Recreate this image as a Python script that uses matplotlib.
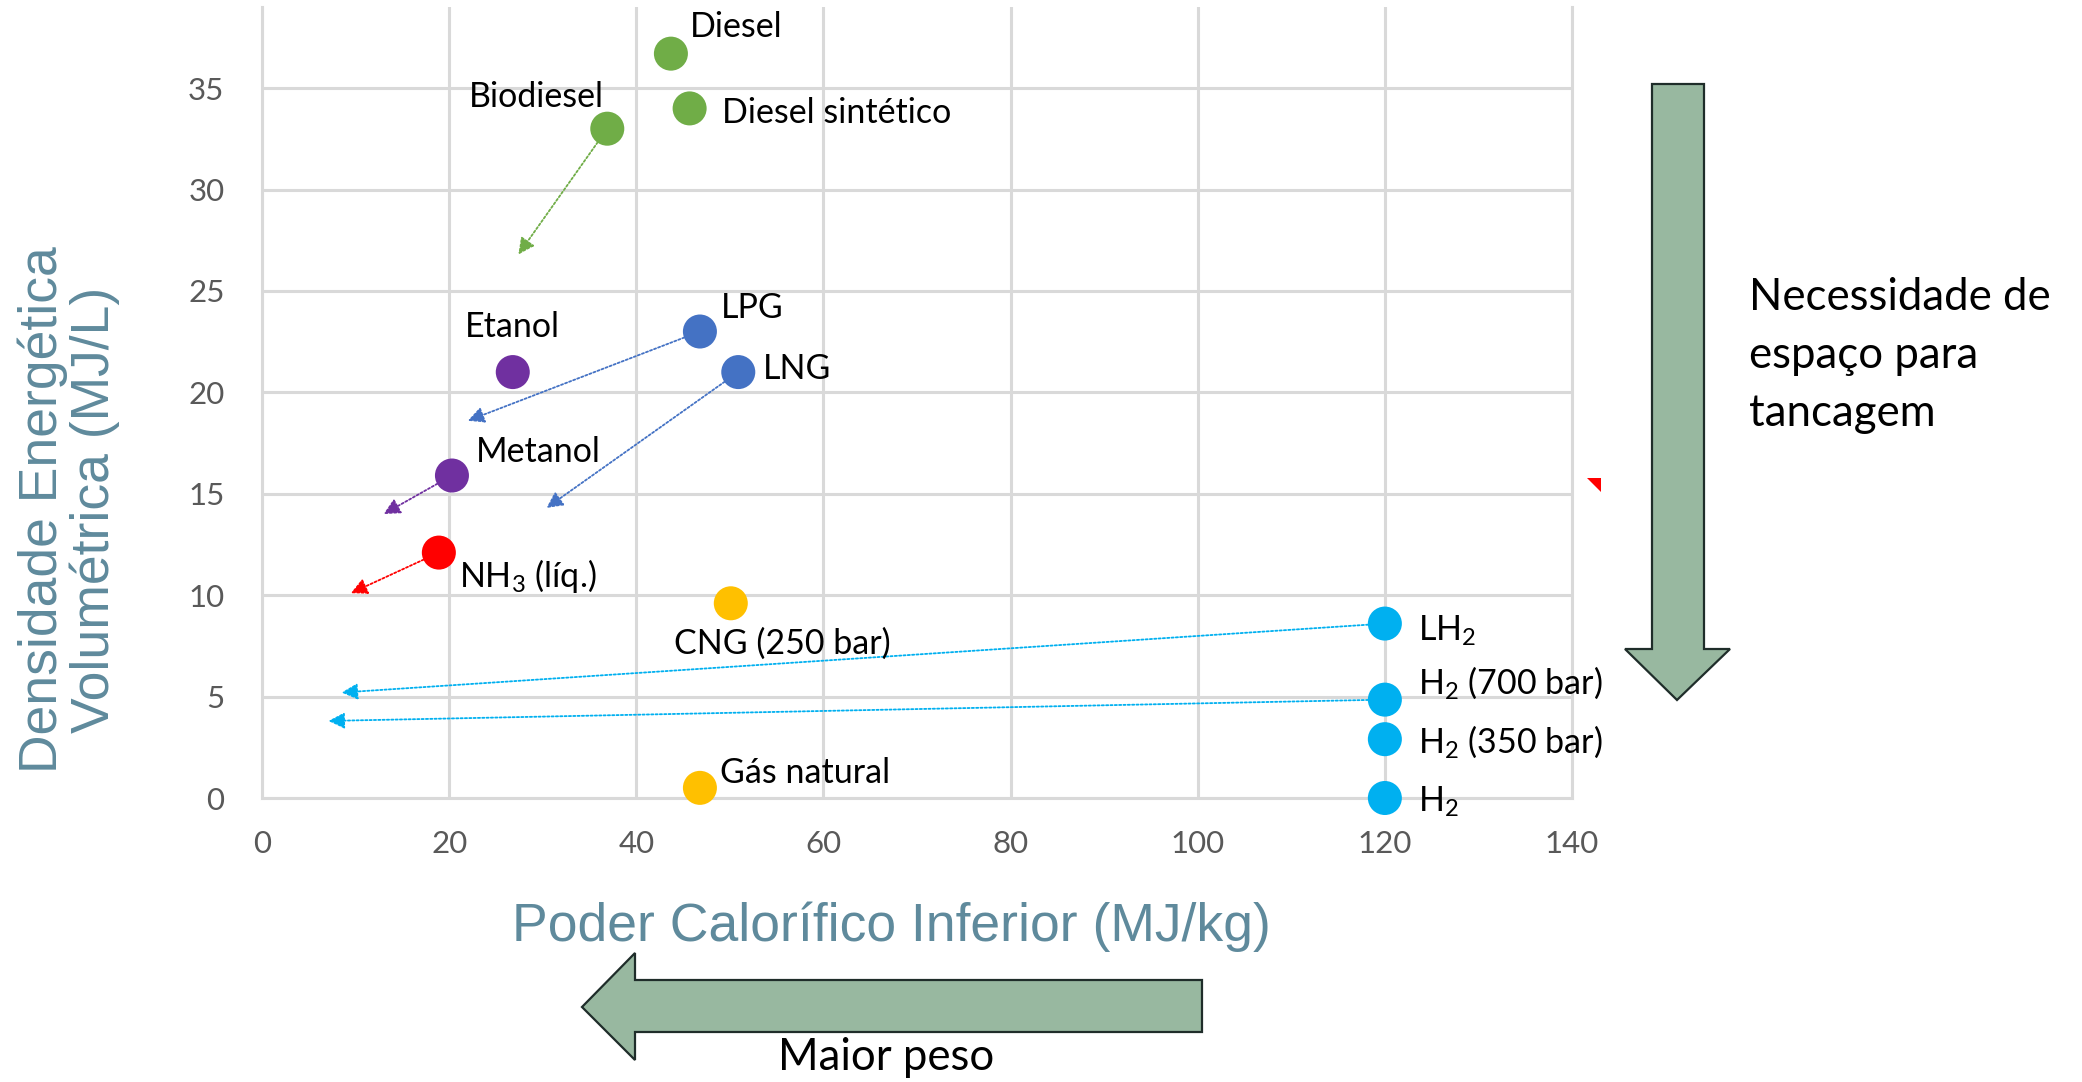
import matplotlib
matplotlib.use("Agg")
import matplotlib.pyplot as plt
from matplotlib.patches import Polygon

plt.rcParams['font.family'] = ['Lato', 'DejaVu Sans']
plt.rcParams['mathtext.fontset'] = 'custom'
plt.rcParams['mathtext.rm'] = 'Lato'

# combustíveis: poder calorífico inferior (MJ/kg) x densidade energética (MJ/L)
nomes = ['Diesel', 'Diesel sintético', 'Biodiesel', 'LPG', 'LNG', 'Etanol',
         'Metanol', r'NH$_{\mathregular{3}}$ (líq.)', 'CNG (250 bar)', 'Gás natural',
         r'LH$_{\mathregular{2}}$', r'H$_{\mathregular{2}}$ (700 bar)',
         r'H$_{\mathregular{2}}$ (350 bar)', r'H$_{\mathregular{2}}$']
pci = [43.7, 45.7, 36.9, 46.8, 50.9, 26.8, 20.3, 18.9, 50.1, 46.8, 120, 120, 120, 120]
dens = [36.7, 34.0, 33.0, 23.0, 21.0, 21.0, 15.9, 12.1, 9.6, 0.5, 8.6, 4.85, 2.9, 0.0]
cores = ['#70AD47', '#70AD47', '#70AD47', '#4472C4', '#4472C4', '#7030A0',
         '#7030A0', '#FF0000', '#FFC000', '#FFC000', '#00B0F0', '#00B0F0',
         '#00B0F0', '#00B0F0']

# setas: de qual ponto partem e onde terminam
seta_origem = ['Biodiesel', 'LPG', 'LNG', 'Metanol', r'NH$_{\mathregular{3}}$ (líq.)',
               r'LH$_{\mathregular{2}}$', r'H$_{\mathregular{2}}$ (700 bar)']
seta_x = [27.4, 22.0, 30.4, 13.0, 9.5, 8.5, 7.1]
seta_y = [26.8, 18.6, 14.3, 14.0, 10.1, 5.2, 3.8]

# ponta solta fora da área do gráfico
ponta_x = [142.3]
ponta_y = [15.45]

# deslocamento dos rótulos (px) e alinhamento
rot_dx = [19, 32, -3, 21, 25, 0, 24, 20, -57, 20, 33, 33, 33, 33]
rot_dy = [27, -5, 32, 24, 3, 45, 24, -23, -40, 15, -7, 16, -3, -4]
rot_ha = ['left', 'left', 'right', 'left', 'left', 'center', 'left', 'left',
          'left', 'left', 'left', 'left', 'left', 'left']

W, H = 2082, 1082
fig = plt.figure(figsize=(W / 100, H / 100), dpi=100)
ax = fig.add_axes([262 / W, 1 - 798 / H, 1310 / W, 791 / H])

ax.set_xlim(0, 140)
ax.set_ylim(0, 39)
ax.set_xticks(range(0, 141, 20))
ax.set_yticks(range(0, 36, 5))
ax.grid(True, color='#D9D9D9', lw=2.2)
ax.set_axisbelow(True)
for s in ['left', 'bottom', 'right']:
    ax.spines[s].set_color('#D9D9D9')
    ax.spines[s].set_linewidth(2.2)
ax.spines['top'].set_visible(False)
ax.tick_params(length=0, labelsize=22.5, labelcolor='#595959')
ax.tick_params(axis='x', pad=23)
ax.tick_params(axis='y', pad=27)

for ox, tx, ty in zip(seta_origem, seta_x, seta_y):
    i = nomes.index(ox)
    ax.annotate('', xy=(tx, ty), xytext=(pci[i], dens[i]),
                arrowprops=dict(arrowstyle='-|>,head_length=0.7,head_width=0.35',
                                color=cores[i], lw=1.3, linestyle=(0, (1.2, 1.2)),
                                shrinkA=12, shrinkB=0, mutation_scale=14))

ax.scatter(pci, dens, s=600, c=cores, zorder=3, clip_on=False, linewidths=0)
ax.scatter(ponta_x, ponta_y, s=90, c='#FF0000', marker=[(-1, 1), (1, 1), (1, -1)],
           clip_on=False, linewidths=0, zorder=3)

for n, x, y, dx, dy, ha in zip(nomes, pci, dens, rot_dx, rot_dy, rot_ha):
    ax.annotate(n, (x, y), xytext=(dx, dy), textcoords='offset pixels',
                ha=ha, va='center', fontsize=24.5, color='black',
                annotation_clip=False, zorder=4)

cor_titulo = '#5F8A9C'
fig.text(891 / W, 1 - 927 / H, 'Poder Calorífico Inferior (MJ/kg)',
         ha='center', va='center', fontsize=38.5, color=cor_titulo,
         family='Liberation Sans')
fig.text(69 / W, 1 - 510 / H, 'Densidade Energética\nVolumétrica (MJ/L)',
         ha='center', va='center', rotation=90, fontsize=38.5, color=cor_titulo,
         family='Liberation Sans', linespacing=1.05, multialignment='center')


def fig_pts(pts):
    return [(px / W, 1 - py / H) for px, py in pts]


verde = '#98B8A0'
borda = '#1F2D2A'
seta_baixo = [(1652, 84), (1704, 84), (1704, 649), (1730, 649), (1677, 700),
              (1625, 649), (1652, 649)]
seta_esq = [(1202, 980), (1202, 1032), (635, 1032), (635, 1060), (582, 1007),
            (635, 953), (635, 980)]
for pts in (seta_baixo, seta_esq):
    fig.add_artist(Polygon(fig_pts(pts), closed=True, facecolor=verde,
                           edgecolor=borda, lw=1.6, transform=fig.transFigure))

for texto, py in zip(['Necessidade de', 'espaço para', 'tancagem'], [297, 356, 413]):
    fig.text(1749 / W, 1 - py / H, texto, ha='left', va='center', fontsize=31.5)
fig.text(886 / W, 1 - 1058 / H, 'Maior peso', ha='center', va='center', fontsize=31.5)

fig.savefig('out.png', dpi=100)
